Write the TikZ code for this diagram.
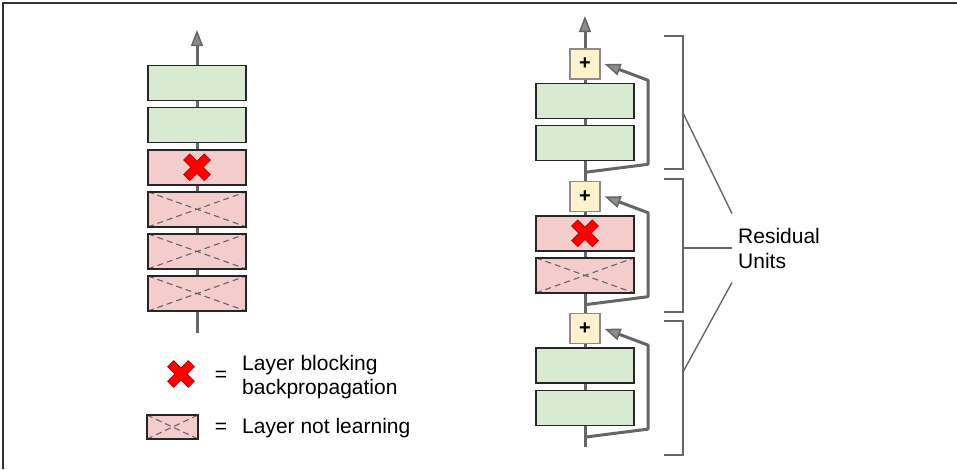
\documentclass[tikz,border=0pt]{standalone}
\usepackage{fontspec}
\setmainfont{Liberation Sans}
\usetikzlibrary{arrows.meta,positioning}

\definecolor{layergreen}{HTML}{D9EAD3}
\definecolor{layerred}{HTML}{F4CCCC}
\definecolor{sumyellow}{HTML}{FFF2CC}
\definecolor{wiregray}{HTML}{666666}
\definecolor{xred}{HTML}{FF0000}
\definecolor{xdark}{HTML}{B40000}

% red cross drawn inside a node (path picture)
\newcommand{\redcross}{%
  \draw[xdark, line width=9.4pt]
    ([shift={(-10.6,-10.6)}]path picture bounding box.center) -- ([shift={(10.6,10.6)}]path picture bounding box.center)
    ([shift={(-10.6,10.6)}]path picture bounding box.center) -- ([shift={(10.6,-10.6)}]path picture bounding box.center);
  \draw[xred, line width=7.6pt]
    ([shift={(-10,-10)}]path picture bounding box.center) -- ([shift={(10,10)}]path picture bounding box.center)
    ([shift={(-10,10)}]path picture bounding box.center) -- ([shift={(10,-10)}]path picture bounding box.center);}

\begin{document}
\begin{tikzpicture}[x=1pt, y=-1pt,
    layer/.style={draw=black!85, line width=1.6pt, minimum width=98pt, minimum height=35pt, inner sep=0pt},
    ok/.style={layer, fill=layergreen},
    blocked/.style={layer, fill=layerred, path picture={\redcross}},
    frozen/.style={layer, fill=layerred, path picture={
        \draw[wiregray, line width=1.1pt, dash pattern=on 6pt off 4pt]
          (path picture bounding box.north west) -- (path picture bounding box.south east)
          (path picture bounding box.south west) -- (path picture bounding box.north east);}},
    crossmark/.style={minimum size=34pt, inner sep=0pt, path picture={\redcross}},
    sum/.style={draw=black!45, line width=1.2pt, fill=sumyellow, minimum size=30pt, inner sep=0pt,
        font=\fontsize{20}{20}\selectfont\bfseries},
    wire/.style={wiregray, line width=3pt},
    arr/.style={-{Triangle[length=16pt, width=12pt, line width=1.5pt, fill=black!45]}},
    brace/.style={wiregray, line width=1.4pt},
    lbl/.style={inner sep=0pt, align=left, font=\fontsize{21}{24}\selectfont},
    node distance=5.5pt
]
\useasboundingbox (0,0) rectangle (957,469);
\draw[black!80, line width=1.5pt] (3,469) -- (3,3) -- (957,3);

% plain deep stack
\node[ok] (l1) at (197,83) {};
\node[ok, below=of l1] (l2) {};
\node[blocked, below=of l2] (l3) {};
\node[frozen, below=of l3] (l4) {};
\node[frozen, below=of l4] (l5) {};
\node[frozen, below=of l5] (l6) {};
\coordinate (topL) at (197,30);
\coordinate (botL) at (197,333);

\draw[wire, arr] (l1.north) -- (topL);
\draw[wire] (l2.north) -- (l1.south);
\draw[wire] (l3.north) -- (l2.south);
\draw[wire] (l4.north) -- (l3.south);
\draw[wire] (l5.north) -- (l4.south);
\draw[wire] (l6.north) -- (l5.south);
\draw[wire] (botL) -- (l6.south);

% residual stack
\node[sum] (p1) at (585,64) {+};
\node[ok, below=3pt of p1] (r1a) {};
\node[ok, below=of r1a] (r1b) {};
\node[sum, below=19.5pt of r1b] (p2) {+};
\node[blocked, below=3pt of p2] (r2a) {};
\node[frozen, below=of r2a] (r2b) {};
\node[sum, below=19.5pt of r2b] (p3) {+};
\node[ok, below=3pt of p3] (r3a) {};
\node[ok, below=of r3a] (r3b) {};
\coordinate (topR) at (585,16);
\coordinate (botR) at (585,447);
\coordinate[below=11pt of r1b] (br1);
\coordinate[below=11pt of r2b] (br2);
\coordinate[below=11pt of r3b] (br3);

\draw[wire, arr] (p1.north) -- (topR);
\draw[wire] (r1a.north) -- (p1.south);
\draw[wire] (r1b.north) -- (r1a.south);
\draw[wire] (p2.north) -- (r1b.south);
\draw[wire] (r2a.north) -- (p2.south);
\draw[wire] (r2b.north) -- (r2a.south);
\draw[wire] (p3.north) -- (r2b.south);
\draw[wire] (r3a.north) -- (p3.south);
\draw[wire] (r3b.north) -- (r3a.south);
\draw[wire] (botR) -- (r3b.south);

% skip connections
\draw[wire, arr, line join=round] (br1) -- ++(63,-8) -- ++(0,-84) -- ([xshift=4pt]p1.east);
\draw[wire, arr, line join=round] (br2) -- ++(63,-8) -- ++(0,-84) -- ([xshift=4pt]p2.east);
\draw[wire, arr, line join=round] (br3) -- ++(63,-8) -- ++(0,-84) -- ([xshift=4pt]p3.east);

% brackets
\draw[brace] (664,36) -- (683,36) -- (683,169) -- (664,169);
\draw[brace] (664,179) -- (683,179) -- (683,312) -- (664,312);
\draw[brace] (664,321) -- (683,321) -- (683,455) -- (664,455);
\coordinate (u1) at (683,113);
\coordinate (u2) at (683,248);
\coordinate (u3) at (683,372);
\node[lbl, font=\fontsize{21}{25}\selectfont, inner xsep=6pt, inner ysep=14pt, anchor=west] (res) at (732,248) {Residual\\Units};
\draw[brace] (u1) -- (res.north west);
\draw[brace] (u2) -- (res.west);
\draw[brace] (u3) -- (res.south west);

% legend
\node[crossmark] (keyx) at (181,374) {};
\node[lbl, anchor=base] (eq1) at (221,381) {=};
\node[lbl, anchor=west] (keyblock) at (242,377.5) {Layer blocking\\backpropagation};
\node[frozen, minimum width=51pt, minimum height=24pt] (keybox) at (172.5,427) {};
\node[lbl, anchor=base] (eq2) at (221,433) {=};
\node[lbl, anchor=base west] (keyfrozen) at (242,433) {Layer not learning};
\end{tikzpicture}
\end{document}
